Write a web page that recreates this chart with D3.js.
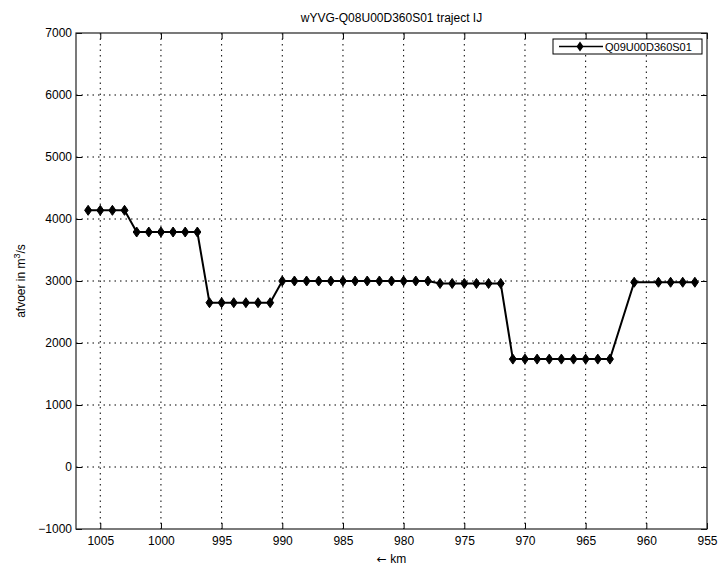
<!DOCTYPE html>
<html lang="nl">
<head>
    <meta charset="utf-8">
    <title>wYVG-Q08U00D360S01 traject IJ</title>
    <script src="https://d3js.org/d3.v7.min.js" charset="utf-8"></script>
    <style>
        body { margin: 0; background: #fff; }
        text { font-family: "Liberation Sans", Arial, sans-serif; fill: #000; }
    </style>
</head>
<body>
    <svg width=718 height=570></svg>
</body>
    <script>
    // km positions along the river
    const km = [1006, 1005, 1004, 1003,
                1002, 1001, 1000, 999, 998, 997,
                996, 995, 994, 993, 992, 991,
                990, 989, 988, 987, 986, 985, 984, 983, 982, 981, 980, 979, 978,
                977, 976, 975, 974, 973, 972,
                971, 970, 969, 968, 967, 966, 965, 964, 963,
                961, 959, 958, 957, 956]
    // discharge in m3/s
    const afvoer = [4140, 4140, 4140, 4140,
                    3790, 3790, 3790, 3790, 3790, 3790,
                    2650, 2650, 2650, 2650, 2650, 2650,
                    3000, 3000, 3000, 3000, 3000, 3000, 3000, 3000, 3000, 3000, 3000, 3000, 3000,
                    2960, 2960, 2960, 2960, 2960, 2960,
                    1740, 1740, 1740, 1740, 1740, 1740, 1740, 1740, 1740,
                    2980, 2980, 2980, 2980, 2980]
    const xTicks = [1005, 1000, 995, 990, 985, 980, 975, 970, 965, 960, 955]
    const yTicks = [-1000, 0, 1000, 2000, 3000, 4000, 5000, 6000, 7000]
    const seriesName = "Q09U00D360S01"
    const title = "wYVG-Q08U00D360S01 traject IJ"

    const pLeft = 76, pRight = 707, pTop = 33, pBottom = 529
    const w = pRight - pLeft, h = pBottom - pTop

    const svg = d3.select("svg")
    const x = d3.scaleLinear().domain([1007, 955]).range([pLeft, pRight])
    const y = d3.scaleLinear().domain([-1000, 7000]).range([pBottom, pTop])

    // grid
    const grid = svg.append("g")
    grid.selectAll(".gx").data(xTicks.slice(0, -1)).join("line")
        .attr("x1", d => x(d)).attr("x2", d => x(d))
        .attr("y1", pTop).attr("y2", pBottom)
        .attr("stroke", "#000").attr("stroke-width", 1)
        .attr("stroke-dasharray", "1.5,4")
    grid.selectAll(".gy").data(yTicks.slice(1, -1)).join("line")
        .attr("x1", pLeft).attr("x2", pRight)
        .attr("y1", d => y(d)).attr("y2", d => y(d))
        .attr("stroke", "#000").attr("stroke-width", 1)
        .attr("stroke-dasharray", "1.5,4")

    // axes with inward ticks on all four sides
    const fmt = d => String(d).replace("-", "\u2212")
    const styleAxis = g => {
        g.select(".domain").remove()
        g.selectAll("text").style("font-size", "12px").attr("fill", "#000")
        g.selectAll("line").attr("stroke", "#000")
    }
    svg.append("g").attr("transform", `translate(0,${pBottom})`)
        .call(d3.axisBottom(x).tickValues(xTicks).tickFormat(fmt).tickSize(-6).tickPadding(7))
        .call(styleAxis)
    svg.append("g").attr("transform", `translate(0,${pTop})`)
        .call(d3.axisTop(x).tickValues(xTicks).tickFormat("").tickSize(-6))
        .call(styleAxis)
    svg.append("g").attr("transform", `translate(${pLeft},0)`)
        .call(d3.axisLeft(y).tickValues(yTicks).tickFormat(fmt).tickSize(-6).tickPadding(4))
        .call(styleAxis)
    svg.append("g").attr("transform", `translate(${pRight},0)`)
        .call(d3.axisRight(y).tickValues(yTicks).tickFormat("").tickSize(-6))
        .call(styleAxis)

    svg.append("rect")
        .attr("x", pLeft).attr("y", pTop).attr("width", w).attr("height", h)
        .attr("fill", "none").attr("stroke", "#222").attr("stroke-width", 1.2)

    // series
    const pts = km.map((k, i) => ({k: k, v: afvoer[i]}))
    const line = d3.line().x(d => x(d.k)).y(d => y(d.v))
    svg.append("path").datum(pts)
        .attr("d", line).attr("fill", "none")
        .attr("stroke", "#000").attr("stroke-width", 2)
    const diamond = "M0,-5L3.5,0L0,5L-3.5,0Z"
    svg.selectAll(".mk").data(pts).join("path")
        .attr("transform", d => `translate(${x(d.k)},${y(d.v)})`)
        .attr("d", diamond).attr("fill", "#000").attr("stroke", "#000")

    // legend
    const lg = svg.append("g")
    lg.append("rect").attr("x", 553).attr("y", 39).attr("width", 149).attr("height", 15)
        .attr("fill", "#fff").attr("stroke", "#000").attr("stroke-width", 1)
    lg.append("line").attr("x1", 559).attr("x2", 603).attr("y1", 46.5).attr("y2", 46.5)
        .attr("stroke", "#000").attr("stroke-width", 1.5)
    lg.append("path").attr("transform", "translate(580,46.5)").attr("d", diamond).attr("fill", "#000")
    lg.append("text").attr("x", 605).attr("y", 50.5).style("font-size", "11px").text(seriesName)

    // titles
    svg.append("text").attr("x", (pLeft + pRight) / 2).attr("y", 22)
        .attr("text-anchor", "middle").style("font-size", "12px").text(title)
    const xl = svg.append("text").attr("x", (pLeft + pRight) / 2).attr("y", 563)
        .attr("text-anchor", "middle").style("font-size", "12px")
    xl.append("tspan").style("font-family", "'DejaVu Sans'").text("\u2190")
    xl.append("tspan").text(" km")
    const yl = svg.append("text")
        .attr("transform", `translate(25,${(pTop + pBottom) / 2}) rotate(-90)`)
        .attr("text-anchor", "middle").style("font-size", "12px")
    yl.append("tspan").text("afvoer in m")
    yl.append("tspan").attr("dy", -5).style("font-size", "9px").text("3")
    yl.append("tspan").attr("dy", 5).text("/s")
    </script>
</html>
